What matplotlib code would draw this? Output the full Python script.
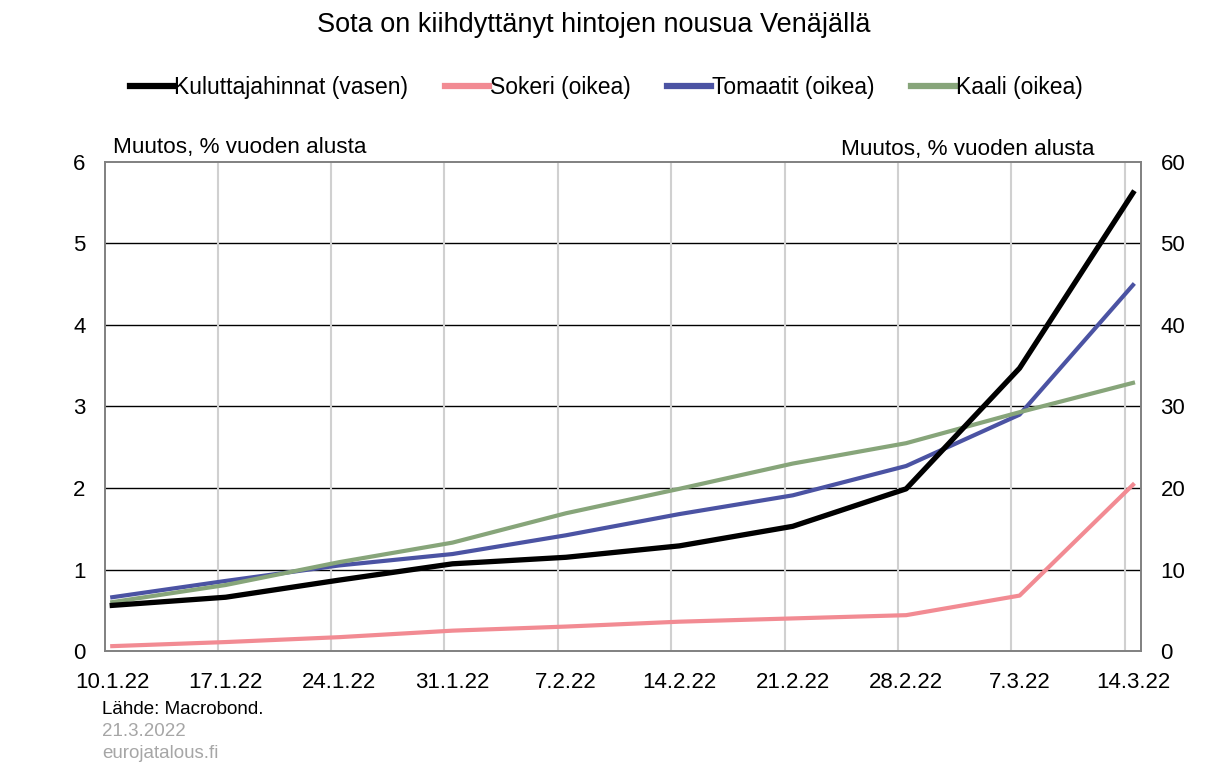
import matplotlib
matplotlib.use("Agg")
import matplotlib.pyplot as plt
import numpy as np

plt.rcParams['font.family'] = ['Liberation Sans', 'DejaVu Sans']

# ── Data ──────────────────────────────────────
dates = ["10.1.22", "17.1.22", "24.1.22", "31.1.22", "7.2.22",
         "14.2.22", "21.2.22", "28.2.22", "7.3.22", "14.3.22"]
days = np.arange(len(dates)) * 7

kuluttajahinnat = [0.56, 0.66, 0.87, 1.07, 1.15, 1.29, 1.53, 1.99, 3.47, 5.62]
sokeri   = [0.6, 1.1, 1.7, 2.5, 3.0, 3.6, 4.0, 4.4, 6.8, 20.4]
tomaatit = [6.6, 8.6, 10.5, 11.9, 14.2, 16.8, 19.1, 22.7, 29.0, 44.9]
kaali    = [6.0, 8.1, 10.9, 13.3, 16.9, 19.9, 23.0, 25.5, 29.3, 32.9]

C_BLACK = "#000000"
C_PINK  = "#F28B93"
C_BLUE  = "#4B53A3"
C_GREEN = "#87A57A"

fig = plt.figure(figsize=(12.32, 7.72), dpi=100)
ax = fig.add_axes([0.0852, 0.1567, 0.8410, 0.6335])
ax2 = ax.twinx()

# right axis series, left axis (black) drawn on top
l2, = ax2.plot(days, sokeri, color=C_PINK, lw=3.0, label="Sokeri (oikea)")
l3, = ax2.plot(days, tomaatit, color=C_BLUE, lw=3.0, label="Tomaatit (oikea)")
l4, = ax2.plot(days, kaali, color=C_GREEN, lw=3.0, label="Kaali (oikea)")
l1, = ax.plot(days, kuluttajahinnat, color=C_BLACK, lw=3.8,
              label="Kuluttajahinnat (vasen)")

ax.set_zorder(ax2.get_zorder() + 1)
ax.patch.set_visible(False)
ax.set_xlim(-0.45, 63.5)
ax.set_ylim(0, 6)
ax2.set_ylim(0, 60)
ax.set_yticks(range(0, 7))
ax2.set_yticks(range(0, 61, 10))

ax.set_xticks(days)
ax.set_xticklabels(dates)

# gridlines: horizontal black, vertical light grey (offset half a day)
for y in range(1, 6):
    ax2.axhline(y * 10, color="black", lw=1.0, zorder=0)
for d in days[1:]:
    ax2.axvline(d - 0.5, color="#D0D0D0", lw=1.5, zorder=0)

for a in (ax, ax2):
    a.tick_params(length=0, labelsize=16)
    for s in a.spines.values():
        s.set_color("#808080")
        s.set_linewidth(1.2)
ax.tick_params(axis="x", pad=15)
ax2.tick_params(axis="y", pad=14)
ax.tick_params(axis="y", pad=14)

ax.text(0.008, 1.008, "Muutos, % vuoden alusta", transform=ax.transAxes,
        fontsize=16.2, ha="left", va="bottom")
ax.text(0.955, 1.003, "Muutos, % vuoden alusta", transform=ax.transAxes,
        fontsize=16.2, ha="right", va="bottom")

fig.suptitle("Sota on kiihdyttänyt hintojen nousua Venäjällä",
             fontsize=19.5, x=0.482, y=0.985)

fig.legend(handles=[l1, l2, l3, l4], loc="center", ncol=4,
           bbox_to_anchor=(0.492, 0.887), frameon=False, fontsize=16.5,
           handlelength=1.9, handletextpad=0.05, columnspacing=1.6)
for h in fig.legends[0].legend_handles:
    h.set_linewidth(4.5)

fig.text(0.083, 0.075, "Lähde: Macrobond.", fontsize=13.5, color="black")
fig.text(0.083, 0.046, "21.3.2022", fontsize=13.5, color="#A6A6A6")
fig.text(0.083, 0.018, "eurojatalous.fi", fontsize=13.5, color="#A6A6A6")

plt.savefig("out.png", dpi=100)
